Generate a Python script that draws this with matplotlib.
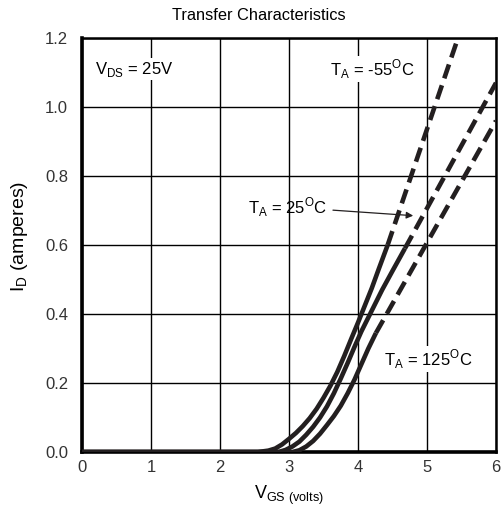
import matplotlib
matplotlib.use('Agg')
import matplotlib.pyplot as plt

plt.rcParams['font.family'] = ['Liberation Sans', 'DejaVu Sans']
plt.rcParams['mathtext.fontset'] = 'custom'
plt.rcParams['mathtext.rm'] = 'Liberation Sans'

INK = '#231f20'

# -55C curve (steepest at high Vgs)
vgs_cold = [0, 2.55, 2.7, 2.8, 2.9, 3.0, 3.1, 3.2, 3.3, 3.4, 3.5, 3.6, 3.7, 3.8, 3.9, 4.0,
            4.1, 4.2, 4.3, 4.43]
id_cold = [0, 0, 0.004, 0.01, 0.022, 0.038, 0.055, 0.075, 0.098, 0.125, 0.157, 0.192, 0.232,
           0.278, 0.327, 0.375, 0.425, 0.475, 0.53, 0.60]
vgs_cold_ext = [4.43, 5.5]
id_cold_ext = [0.60, 1.23]

# 25C curve
vgs_room = [0, 2.85, 2.95, 3.05, 3.15, 3.25, 3.35, 3.45, 3.55, 3.65, 3.75, 3.85, 3.95, 4.05,
            4.2, 4.35, 4.5, 4.68]
id_room = [0, 0, 0.006, 0.016, 0.03, 0.05, 0.073, 0.1, 0.132, 0.17, 0.213, 0.258, 0.305, 0.35,
           0.41, 0.47, 0.525, 0.59]
vgs_room_ext = [4.68, 6.0]
id_room_ext = [0.59, 1.07]

# 125C curve
vgs_hot = [0, 3.05, 3.15, 3.25, 3.35, 3.45, 3.55, 3.65, 3.75, 3.85, 3.95, 4.05, 4.15, 4.26]
id_hot = [0, 0, 0.005, 0.016, 0.032, 0.053, 0.078, 0.104, 0.134, 0.17, 0.21, 0.255, 0.3, 0.345]
vgs_hot_ext = [4.26, 6.0]
id_hot_ext = [0.345, 0.96]

x_ticks = [0, 1, 2, 3, 4, 5, 6]
y_ticks = [0.0, 0.2, 0.4, 0.6, 0.8, 1.0, 1.2]

fig = plt.figure(figsize=(5.01, 5.17), dpi=100)
ax = fig.add_axes([0.1637, 0.1257, 0.8263, 0.8008])

for xs, ys in [(vgs_cold, id_cold), (vgs_room, id_room), (vgs_hot, id_hot)]:
    ax.plot(xs, ys, color=INK, lw=3.3, solid_capstyle='butt', solid_joinstyle='round', zorder=3)
for xs, ys in [(vgs_cold_ext, id_cold_ext), (vgs_room_ext, id_room_ext), (vgs_hot_ext, id_hot_ext)]:
    ax.plot(xs, ys, color=INK, lw=3.3, dashes=(3.2, 1.6), dash_capstyle='butt', zorder=3)

ax.set_xlim(0, 6)
ax.set_ylim(0, 1.2)
ax.set_xticks(x_ticks)
ax.set_yticks(y_ticks)
ax.set_xticklabels([str(t) for t in x_ticks])
ax.set_yticklabels(['%.1f' % t for t in y_ticks])
ax.tick_params(length=0, labelsize=12, labelcolor='#333333')
ax.tick_params(axis='y', pad=10)
ax.tick_params(axis='x', pad=6)
ax.grid(True, color='black', lw=1.0)
ax.set_axisbelow(True)
for s in ['left', 'bottom']:
    ax.spines[s].set_linewidth(2.6)
for s in ['top', 'right']:
    ax.spines[s].set_linewidth(1.8)

fig.text(259 / 501, 1 - 16 / 517, 'Transfer Characteristics', fontsize=11.8, ha='center', va='center')
ax.set_ylabel(r'I$_\mathregular{D}$ (amperes)', fontsize=14)
ax.yaxis.set_label_coords(-0.125, 0.52)
ax.set_xlabel(r'V$_\mathregular{GS\ (volts)}$', fontsize=13, labelpad=6)

box = dict(facecolor='white', edgecolor='none', pad=1)
fs = 12
ax.text(0.19, 1.11, r'V$_\mathregular{DS}$ = 25V', fontsize=fs, va='center', bbox=box, zorder=4)
ax.text(3.59, 1.11, r'T$_\mathregular{A}$ = -55$^\mathregular{O}$C', fontsize=fs, va='center', bbox=box, zorder=4)
ax.text(4.38, 0.27, r'T$_\mathregular{A}$ = 125$^\mathregular{O}$C', fontsize=fs, va='center', bbox=box, zorder=4)
ax.annotate(r'T$_\mathregular{A}$ = 25$^\mathregular{O}$C', xy=(4.8, 0.685), xytext=(2.41, 0.71),
            fontsize=fs, va='center', zorder=4,
            arrowprops=dict(arrowstyle='-|>', color=INK, lw=0.9, mutation_scale=10, shrinkA=2, shrinkB=0))

fig.savefig('out.png', dpi=100)
